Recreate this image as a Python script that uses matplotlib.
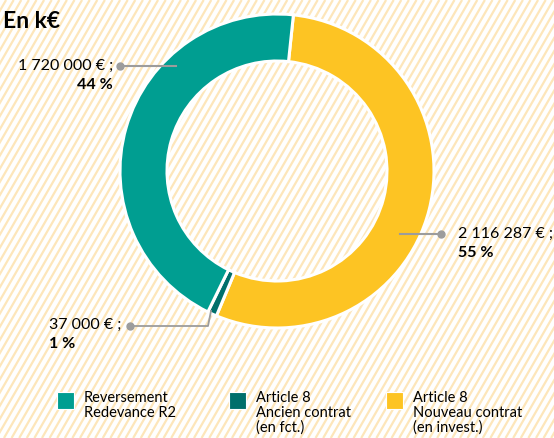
import numpy as np
import matplotlib
matplotlib.use("Agg")
import matplotlib.pyplot as plt
from matplotlib.patches import Rectangle

plt.rcParams['font.family'] = ['Lato', 'DejaVu Sans']

# Data
categories = ["Reversement\nRedevance R2", "Article 8\nAncien contrat\n(en fct.)", "Article 8\nNouveau contrat\n(en invest.)"]
values = [1720000, 37000, 2116287]
amount_labels = ["1 720 000 € ;", "37 000 € ;", "2 116 287 € ;"]
pct_labels = ["44 %", "1 %", "55 %"]
colors = ["#009e91", "#006f6b", "#fdc423"]

W, H = 554, 438
fig = plt.figure(figsize=(W / 100, H / 100), dpi=100)
ax = fig.add_axes([0, 0, 1, 1])

# striped background
ys = np.array([0, H])
for c in np.arange(-300, W + 10, 7.6):
    ax.plot(c + ys / np.tan(np.radians(60)), ys, color="#fde6ba", lw=1.6, zorder=0,
            solid_capstyle="butt")

# donut (yellow first, clockwise from just right of the top)
cx, cy, R = 277, H - 171, 157
order = [2, 1, 0]
wedges, _ = ax.pie([values[i] for i in order], colors=[colors[i] for i in order],
                   startangle=84.0, counterclock=False, center=(cx, cy), radius=R,
                   wedgeprops=dict(width=47, edgecolor="white", linewidth=2.2),
                   frame=True)
ax.set_xlim(0, W)
ax.set_ylim(0, H)
ax.set_aspect("auto")
ax.axis("off")

grey = "#9c9c9c"
lab_fs = 11.5

# teal label
ax.plot([120, 176], [H - 66, H - 66], color=grey, lw=1.5, zorder=3)
ax.plot([120], [H - 66], "o", color=grey, ms=5, zorder=3)
ax.text(113, H - 66, amount_labels[0], ha="right", va="center", fontsize=lab_fs)
ax.text(113, H - 85, pct_labels[0], ha="right", va="center", fontsize=lab_fs, fontweight="bold")

# yellow label
ax.plot([400, 441], [H - 234, H - 234], color=grey, lw=1.5, zorder=3)
ax.plot([441], [H - 234], "o", color=grey, ms=5, zorder=3)
ax.text(458, H - 234, amount_labels[2], ha="left", va="center", fontsize=lab_fs)
ax.text(458, H - 253, pct_labels[2], ha="left", va="center", fontsize=lab_fs, fontweight="bold")

# dark teal label
ax.plot([130, 208, 211], [H - 326, H - 326, H - 311], color=grey, lw=1.3, zorder=3)
ax.plot([130], [H - 326], "o", color=grey, ms=5, zorder=3)
ax.text(49, H - 325, amount_labels[1], ha="left", va="center", fontsize=lab_fs)
ax.text(49, H - 344, pct_labels[1], ha="left", va="center", fontsize=lab_fs, fontweight="bold")

# title
ax.text(3, H - 22, "En k€", ha="left", va="center", fontsize=16.5, fontweight="bold")

# legend
leg_x = [57, 229, 386]
for x0, lab, col in zip(leg_x, categories, colors):
    ax.add_patch(Rectangle((x0, H - 409), 17, 17, facecolor=col, edgecolor="white", lw=0.8, zorder=3))
    ax.text(x0 + 27, H - 391, lab, ha="left", va="top", fontsize=10.5, linespacing=1.05)

fig.savefig("out.png", dpi=100)
